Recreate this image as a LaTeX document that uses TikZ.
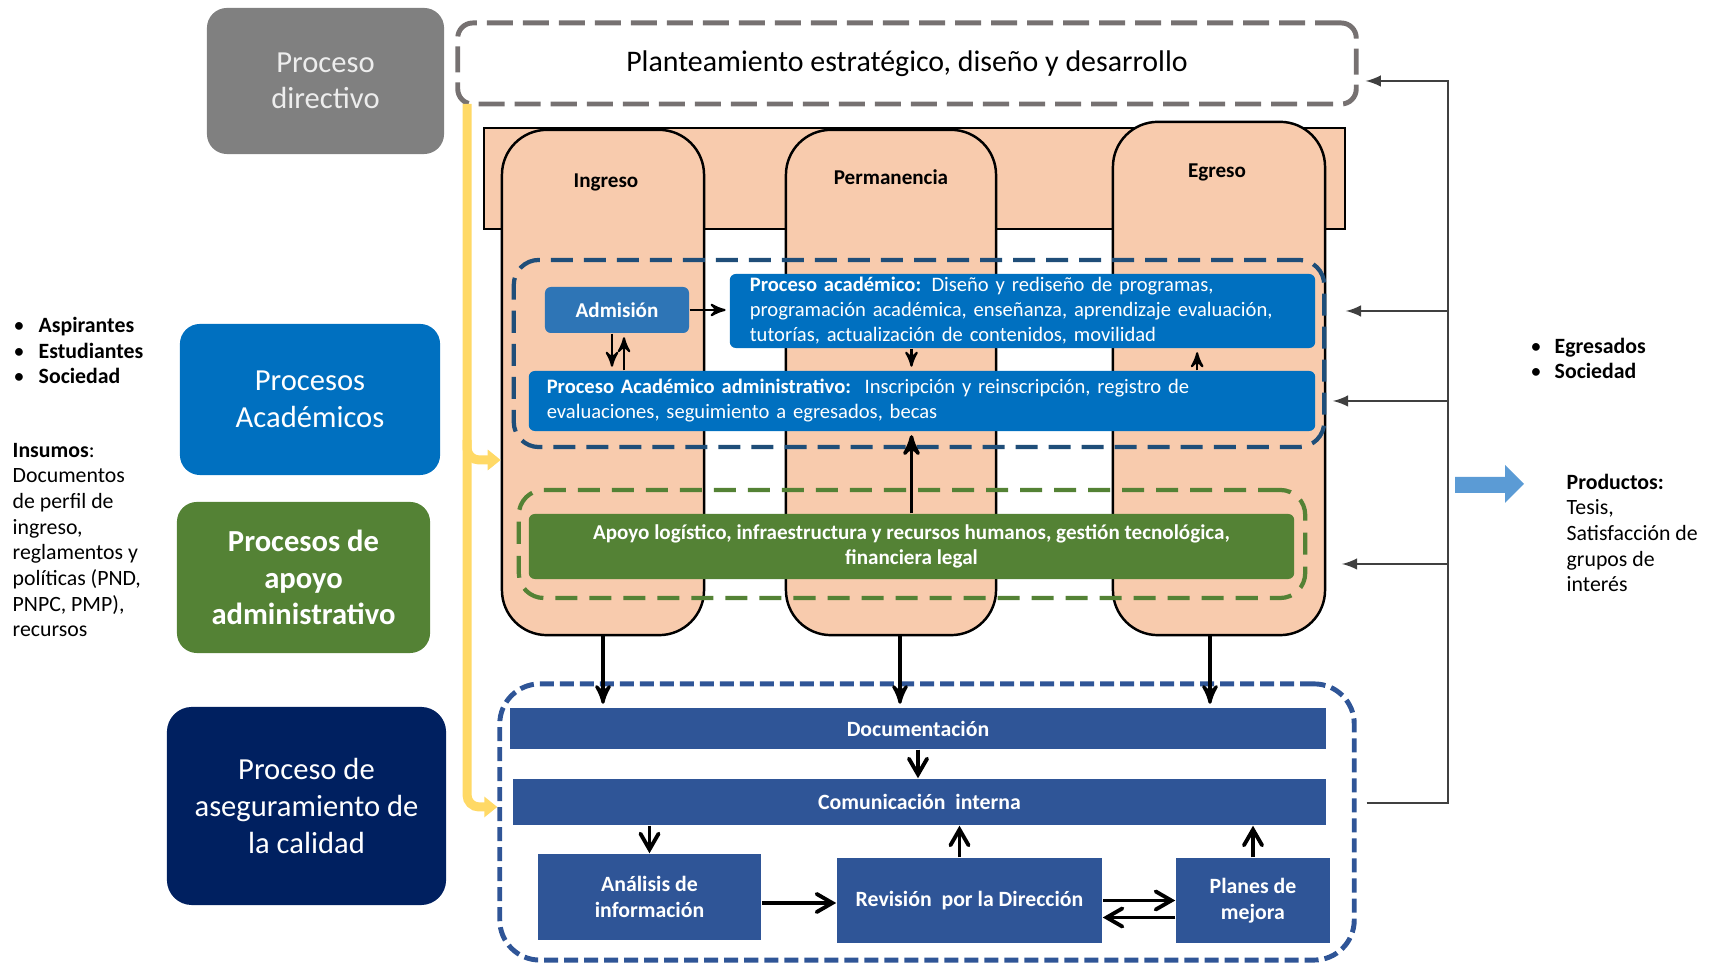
\documentclass[tikz,border=0pt]{standalone}
\usepackage{fontspec}
\setmainfont{Carlito}
\usetikzlibrary{arrows,arrows.meta}

\definecolor{peach}{HTML}{F8CBAD}
\definecolor{dirgray}{HTML}{808080}
\definecolor{plangray}{HTML}{767171}
\definecolor{acadblue}{HTML}{0070C0}
\definecolor{admblue}{HTML}{2E75B6}
\definecolor{frameblue}{HTML}{1F4E79}
\definecolor{supgreen}{HTML}{548235}
\definecolor{navy}{HTML}{002060}
\definecolor{qblue}{HTML}{2F5597}
\definecolor{ylw}{HTML}{FFD966}
\definecolor{outblue}{HTML}{5B9BD5}

\begin{document}
\begin{tikzpicture}[x=0.01cm,y=-0.01cm,>=stealth',
    side box/.style={rounded corners=0.2cm,text=white,align=center,inner sep=0pt,
      font=\fontsize{8.7}{10.4}\selectfont},
    stage/.style={draw=black,line width=0.7pt,fill=peach,rounded corners=0.45cm,inner sep=0pt},
    stage label/.style={font=\bfseries\fontsize{6}{7}\selectfont},
    dash frame/.style={rounded corners=0.25cm,line width=1.2pt,inner sep=0pt},
    blue box/.style={fill=acadblue,text=white,inner sep=0pt,rounded corners=0.06cm,
      font=\fontsize{5.85}{7.1}\selectfont},
    quality box/.style={fill=qblue,text=white,inner sep=0pt,align=center,
      font=\bfseries\fontsize{6.2}{7.4}\selectfont},
    thin arrow/.style={->,shorten >=1pt,line width=0.6pt},
    thick arrow/.style={->,>=angle 60,line width=1.1pt},
    feedback/.style={->,>=latex,draw=black!75,line width=0.5pt},
    yellow line/.style={-{Triangle[length=0.13cm,width=0.2cm]},draw=ylw,line width=0.09cm,rounded corners=0.12cm},
    small text/.style={align=left,inner sep=0pt,font=\fontsize{6.2}{7.3}\selectfont}]

    \useasboundingbox (0,0) rectangle (1711,965);

    % process types on the left
    \node[side box,fill=dirgray,text=white!93!black,minimum width=2.37cm,minimum height=1.46cm] (dir) at (325.5,81) {Proceso\\directivo};
    \node[side box,fill=acadblue,minimum width=2.6cm,minimum height=1.51cm] (acad) at (310,399.5) {Procesos\\Académicos};
    \node[side box,fill=supgreen,minimum width=2.53cm,minimum height=1.51cm,
      font=\bfseries\fontsize{8.7}{10.4}\selectfont] (apoyo) at (303.5,577.5) {Procesos de\\apoyo\\administrativo};
    \node[side box,fill=navy,minimum width=2.79cm,minimum height=1.98cm,rounded corners=0.25cm] (calidad) at (306.5,806) {Proceso de\\aseguramiento de\\la calidad};

    \node[dash frame,draw=plangray,rounded corners=0.15cm,line width=1.4pt,dash pattern=on 0.26cm off 0.1cm,
      minimum width=8.98cm,minimum height=0.81cm,font=\fontsize{8.5}{10}\selectfont] (plan) at (907,63.5)
      {Planteamiento estratégico, diseño y desarrollo};

    % stages
    \node[draw=black,line width=0.5pt,fill=peach,minimum width=8.61cm,minimum height=1.01cm,inner sep=0pt] (band) at (914.5,178.5) {};
    \node[stage,minimum width=2.02cm,minimum height=5.05cm] (ingreso) at (603,382.5) {};
    \node[stage,minimum width=2.1cm,minimum height=5.05cm] (perm) at (891,382.5) {};
    \node[stage,minimum width=2.12cm,minimum height=5.13cm] (egreso) at (1219,378.5) {};
    \node[stage label] (lingreso) at (606,182) {Ingreso};
    \node[stage label] (lperm) at (891,177) {Permanencia};
    \node[stage label] (legreso) at (1217,172) {Egreso};

    % academic processes
    \node[dash frame,draw=frameblue,dash pattern=on 0.22cm off 0.11cm,minimum width=8.1cm,minimum height=1.87cm] (acadframe) at (919,353.5) {};
    \node[blue box,fill=admblue,minimum width=1.44cm,minimum height=0.46cm,
      font=\bfseries\fontsize{6}{7}\selectfont] (admision) at (617,310) {Admisión};
    \node[blue box,minimum height=0.74cm,text width=5.45cm,inner xsep=0.2cm,align=left] (pacad) at (1022.5,311)
      {\textbf{Proceso académico:} Diseño y rediseño de programas,\\programación académica, enseñanza, aprendizaje evaluación,\\tutorías, actualización de contenidos, movilidad};
    \node[blue box,minimum height=0.6cm,text width=7.5cm,inner xsep=0.18cm,align=left] (padmin) at (922,401)
      {\textbf{Proceso Académico administrativo:}\ \ Inscripción y reinscripción, registro de\\evaluaciones, seguimiento a egresados, becas};

    % support processes
    \node[dash frame,draw=supgreen,dash pattern=on 0.22cm off 0.12cm,minimum width=7.86cm,minimum height=1.08cm] (greenframe) at (912,544) {};
    \node[blue box,fill=supgreen,minimum width=7.65cm,minimum height=0.65cm,align=center,
      font=\bfseries\fontsize{6}{7.1}\selectfont] (apoyobox) at (911.5,546.5)
      {Apoyo logístico, infraestructura y recursos humanos, gestión tecnológica,\\financiera legal};

    % quality assurance
    \node[dash frame,draw=qblue,rounded corners=0.4cm,line width=1.4pt,dash pattern=on 0.14cm off 0.06cm,
      minimum width=8.54cm,minimum height=2.76cm] (qframe) at (927,822) {};
    \node[quality box,minimum width=8.16cm,minimum height=0.41cm] (doc) at (918,728.5) {Documentación};
    \node[quality box,minimum width=8.13cm,minimum height=0.46cm] (com) at (919.5,802) {Comunicación\ \ interna};
    \node[quality box,minimum width=2.23cm,minimum height=0.86cm] (analisis) at (649.5,897) {Análisis\ de\\información};
    \node[quality box,minimum width=2.65cm,minimum height=0.85cm] (revision) at (969.5,900.5) {Revisión\ \ por\ la\ Dirección};
    \node[quality box,minimum width=1.54cm,minimum height=0.85cm] (planes) at (1253,900.5) {Planes de\\mejora};

    \draw[thin arrow] (admision) -- (pacad.west |- admision);
    \draw[thin arrow] ([xshift=-0.05cm]admision.south) -- ([xshift=-0.05cm]admision.south |- padmin.north);
    \draw[thin arrow] ([xshift=0.07cm]admision.south |- padmin.north) -- ([xshift=0.07cm]admision.south);
    \draw[thin arrow] (pacad.south -| apoyobox) -- (padmin.north -| apoyobox);
    \draw[thin arrow] ([xshift=2.75cm]padmin.north) -- ([xshift=2.75cm]padmin.north |- pacad.south);
    \draw[thin arrow,line width=1pt] (apoyobox.north) -- (apoyobox.north |- padmin.south);

    \draw[thin arrow,line width=0.9pt] (ingreso.south) -- (ingreso.south |- doc.north);
    \draw[thin arrow,line width=0.9pt] ([xshift=0.09cm]perm.south) -- ([xshift=0.09cm]perm.south |- doc.north);
    \draw[thin arrow,line width=0.9pt] ([xshift=-0.09cm]egreso.south) -- ([xshift=-0.09cm]egreso.south |- doc.north);

    \draw[thick arrow] (doc.south) -- (doc.south |- com.north);
    \draw[thick arrow] (com.south -| analisis) -- (analisis.north);
    \draw[thick arrow] ([xshift=-0.1cm]revision.north) -- ([xshift=-0.1cm]revision.north |- com.south);
    \draw[thick arrow] (planes.north) -- (planes.north |- com.south);
    \draw[thick arrow] ([yshift=-0.06cm]analisis.east) -- ([yshift=-0.06cm]analisis.east -| revision.west);
    \draw[thick arrow] (revision.east) -- (revision.east -| planes.west);
    \draw[thick arrow] ([yshift=-0.17cm]planes.west) -- ([yshift=-0.17cm]planes.west -| revision.east);

    % guideline from the strategic plan
    \coordinate (ytop) at (467,104);
    \coordinate (ybranch) at (467,440);
    \coordinate (yfork) at (467,460);
    \draw[yellow line] (ytop) |- ([yshift=0.15cm]qframe.west);
    \draw[yellow line] (ybranch) |- (yfork -| ingreso.west);

    % feedback
    \coordinate (fbtop) at (1448,81);
    \coordinate (fbbot) at (1448,803);
    \draw[feedback] ([xshift=0.1cm]qframe.east |- fbbot) -- (fbbot) -- (fbtop) -- ([xshift=0.07cm]plan.east |- fbtop);
    \draw[feedback] (fbtop |- pacad) -- ([xshift=0.3cm]pacad.east);
    \draw[feedback] (fbtop |- padmin) -- ([xshift=0.17cm]padmin.east);
    \draw[feedback] ([yshift=-0.175cm]fbtop |- apoyobox.east) -- ([xshift=0.47cm,yshift=-0.175cm]apoyobox.east);

    % inputs and outputs
    \node[small text,anchor=west] (stake) at (13,350.5)
      {\makebox[0.25cm][l]{\textbullet}\textbf{Aspirantes}\\\makebox[0.25cm][l]{\textbullet}\textbf{Estudiantes}\\\makebox[0.25cm][l]{\textbullet}\textbf{Sociedad}};
    \node[small text,anchor=west] (insumos) at (12,540)
      {\textbf{Insumos}:\\Documentos\\de perfil de\\ingreso,\\reglamentos y\\políticas (PND,\\PNPC, PMP),\\recursos};
    \node[small text,anchor=west] (egresados) at (1530,358.5)
      {\makebox[0.24cm][l]{\textbullet}\textbf{Egresados}\\\makebox[0.24cm][l]{\textbullet}\textbf{Sociedad}};
    \node[small text,anchor=west] (productos) at (1566,533)
      {\textbf{Productos:}\\Tesis,\\Satisfacción de\\grupos de\\interés};
    \fill[outblue] (1455,477) -- (1505,477) -- (1505,465) -- (1524,484) -- (1505,503) -- (1505,493) -- (1455,493) -- cycle;
\end{tikzpicture}
\end{document}
